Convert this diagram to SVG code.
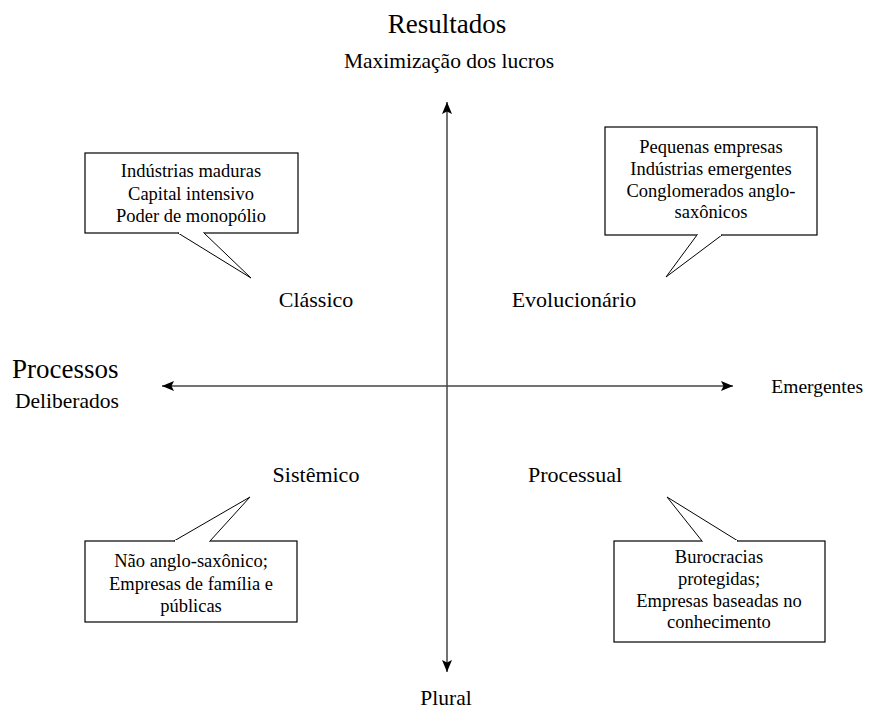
<svg xmlns="http://www.w3.org/2000/svg" width="875" height="713" viewBox="0 0 875 713">
  <defs>
    <marker id="arrow" markerUnits="userSpaceOnUse" markerWidth="14" markerHeight="12" refX="12" refY="5" orient="auto">
      <path d="M0,0 L12,5 L0,10 L2.5,5 Z" fill="#000"/>
    </marker>
    <style>
      text { font-family: "Liberation Serif", "Times New Roman", serif; fill: #000; }
      .title { font-size: 27px; }
      .sub { font-size: 21.5px; }
      .quad { font-size: 22px; text-anchor: middle; }
      .note { font-size: 18.5px; text-anchor: middle; }
      .axis { stroke: #444; stroke-width: 1.5; fill: none; marker-end: url(#arrow); }
      .callout { fill: #fff; stroke: #000; stroke-width: 1.2; }
      .tail { fill: #fff; stroke: #000; stroke-width: 1; }
    </style>
  </defs>
  <rect width="875" height="713" fill="#fff"/>

  <!-- axis labels -->
  <g id="label-resultados">
    <text class="title" x="447" y="33" text-anchor="middle">Resultados</text>
    <text class="sub" x="449" y="68" text-anchor="middle">Maximização dos lucros</text>
  </g>
  <g id="label-processos">
    <text class="title" x="12" y="378">Processos</text>
    <text class="sub" x="15" y="408">Deliberados</text>
  </g>
  <g id="label-emergentes">
    <text class="sub" x="863" y="393" text-anchor="end" style="font-size:19.5px">Emergentes</text>
  </g>
  <g id="label-plural">
    <text class="sub" x="446" y="705" text-anchor="middle">Plural</text>
  </g>

  <!-- axes -->
  <g id="connectors">
    <line class="axis" x1="447" y1="386" x2="447" y2="102"/>
    <line class="axis" x1="447" y1="386" x2="447" y2="672"/>
    <line class="axis" x1="447" y1="386" x2="162" y2="386"/>
    <line class="axis" x1="447" y1="386" x2="733" y2="386"/>
  </g>

  <!-- quadrant names -->
  <g id="quad-classico"><text class="quad" x="316" y="307">Clássico</text></g>
  <g id="quad-evolucionario"><text class="quad" x="574" y="307">Evolucionário</text></g>
  <g id="quad-sistemico"><text class="quad" x="316" y="482">Sistêmico</text></g>
  <g id="quad-processual"><text class="quad" x="575" y="482">Processual</text></g>

  <!-- callout: Clássico -->
  <g id="callout-classico">
    <rect class="callout" x="85" y="153" width="213" height="80"/>
    <path class="tail" d="M178,233 L251,278 L204,233"/>
    <line x1="179" y1="233" x2="203" y2="233" stroke="#fff" stroke-width="2"/>
    <text class="note" x="191" y="177">Indústrias maduras</text>
    <text class="note" x="191" y="200">Capital intensivo</text>
    <text class="note" x="191" y="222">Poder de monopólio</text>
  </g>

  <!-- callout: Evolucionário -->
  <g id="callout-evolucionario">
    <rect class="callout" x="605" y="127" width="212" height="108"/>
    <path class="tail" d="M697,235 L666,277 L722,235"/>
    <line x1="698" y1="235" x2="721" y2="235" stroke="#fff" stroke-width="2"/>
    <text class="note" x="711" y="153">Pequenas empresas</text>
    <text class="note" x="711" y="175">Indústrias emergentes</text>
    <text class="note" x="711" y="197">Conglomerados anglo-</text>
    <text class="note" x="711" y="218">saxônicos</text>
  </g>

  <!-- callout: Sistêmico -->
  <g id="callout-sistemico">
    <rect class="callout" x="85" y="541" width="212" height="81"/>
    <path class="tail" d="M174,541 L250,497 L210,541"/>
    <line x1="175" y1="541" x2="209" y2="541" stroke="#fff" stroke-width="2"/>
    <text class="note" x="191" y="567">Não anglo-saxônico;</text>
    <text class="note" x="191" y="590">Empresas de família e</text>
    <text class="note" x="191" y="612">públicas</text>
  </g>

  <!-- callout: Processual -->
  <g id="callout-processual">
    <rect class="callout" x="614" y="541" width="211" height="101"/>
    <path class="tail" d="M702,541 L667,497 L738,541"/>
    <line x1="703" y1="541" x2="737" y2="541" stroke="#fff" stroke-width="2"/>
    <text class="note" x="719" y="563">Burocracias</text>
    <text class="note" x="719" y="585">protegidas;</text>
    <text class="note" x="719" y="607">Empresas baseadas no</text>
    <text class="note" x="719" y="628">conhecimento</text>
  </g>
</svg>
